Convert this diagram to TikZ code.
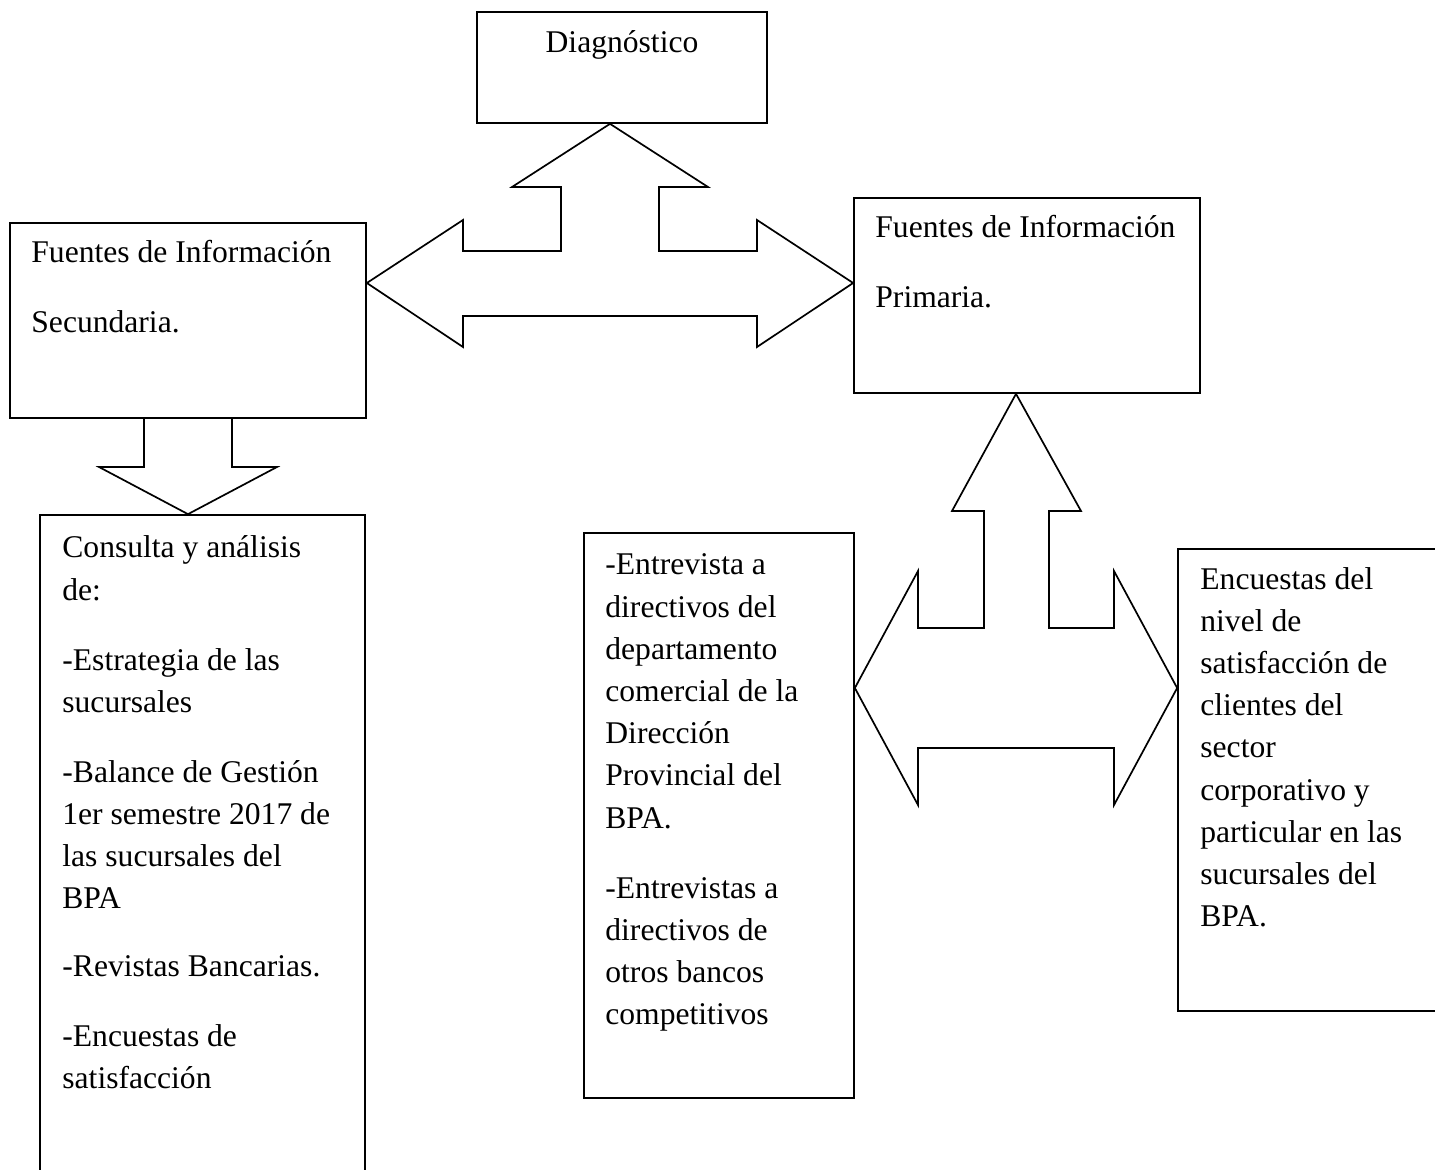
\documentclass[tikz,border=0pt]{standalone}
\usepackage{fontspec}
\setmainfont{Liberation Serif}
\begin{document}
\begin{tikzpicture}[x=0.5pt, y=-0.5pt,
  frame/.style={draw, line width=0.85pt, inner sep=0pt},
  blockarrow/.style={draw, line width=0.85pt, fill=white, line join=miter},
  bodyfont/.style={font=\fontsize{15.8}{21.1}\selectfont},
  txt/.style={bodyfont, inner sep=0pt, align=flush left, text width=#1, anchor=base west,
    execute at begin node={\spaceskip=0pt\xspaceskip=0pt\relax}},
  txt/.default=170pt]
\useasboundingbox (0,0) rectangle (1435,1170);
\fill[white] (0,0) rectangle (1435,1170);
\clip (0,0) rectangle (1435,1170);

% boxes
\node[frame, minimum width=145pt, minimum height=55.5pt] (diag) at (622,67.5) {};
\node[frame, minimum width=178pt, minimum height=97.5pt] (sec) at (188,320.5) {};
\node[frame, minimum width=173pt, minimum height=97.5pt] (prim) at (1027,295.5) {};
\node[frame, minimum width=162.5pt, minimum height=340pt] (cons) at (202.5,855) {};
\node[frame, minimum width=135pt, minimum height=282.5pt] (entr) at (719,815.5) {};
\node[frame, minimum width=140pt, minimum height=231pt] (encu) at (1318,780) {};

% texts
\node[bodyfont, inner sep=0pt, anchor=base] (tdiag) at (622,53) {Diagnóstico};
\node[txt] (tsec) at (31,263) {Fuentes de Información\\[13.9pt]Secundaria.};
\node[txt] (tprim) at (875,238) {Fuentes de Información\\[13.9pt]Primaria.};
\node[txt] (tcons) at (62,558) {Consulta y análisis\\de:\\[13.9pt]-Estrategia de las\\sucursales\\[13.9pt]-Balance de Gestión\\1er semestre 2017 de\\las sucursales del\\BPA\\[12.5pt]-Revistas Bancarias.\\[13.9pt]-Encuestas de\\satisfacción};
\node[txt] (tentr) at (605,575) {-Entrevista a\\directivos del\\departamento\\comercial de la\\Dirección\\Provincial del\\BPA.\\[13.9pt]-Entrevistas a\\directivos de\\otros bancos\\competitivos};
\node[txt] (tencu) at (1200,589) {Encuestas del\\nivel de\\satisfacción de\\clientes del\\sector\\corporativo y\\particular en las\\sucursales del\\BPA.};

% three-way block arrow: secondary <-> primary, up to the diagnosis
\coordinate (a1l) at (sec.east |- 0,283);
\coordinate (a1r) at (prim.west |- 0,283);
\coordinate (a1u) at (diag.south -| 610,0);
\draw[blockarrow] (a1l) -- (463,220) -- (463,251) -- (561,251) -- (561,187) -- (512,187)
  -- (a1u) -- (708,187) -- (659,187) -- (659,251) -- (757,251) -- (757,220)
  -- (a1r) -- (757,347) -- (757,316) -- (463,316) -- (463,347) -- cycle;

% block arrow down from the secondary sources
\coordinate (a2a) at (sec.south -| 144,0);
\coordinate (a2b) at (sec.south -| 232,0);
\coordinate (a2t) at (cons.north -| 188,0);
\draw[blockarrow, fill=none] (a2a) -- (144,467) -- (99,467) -- (a2t) -- (277,467) -- (232,467) -- (a2b);

% three-way block arrow: interviews <-> surveys, up to the primary sources
\coordinate (a3l) at (entr.east |- 0,688);
\coordinate (a3r) at (encu.west |- 0,688);
\coordinate (a3u) at (prim.south -| 1016,0);
\draw[blockarrow] (a3l) -- (918,571) -- (918,628) -- (984,628) -- (984,511) -- (952,511)
  -- (a3u) -- (1081,511) -- (1049,511) -- (1049,628) -- (1114,628) -- (1114,571)
  -- (a3r) -- (1114,805) -- (1114,748) -- (918,748) -- (918,805) -- cycle;
\end{tikzpicture}
\end{document}
